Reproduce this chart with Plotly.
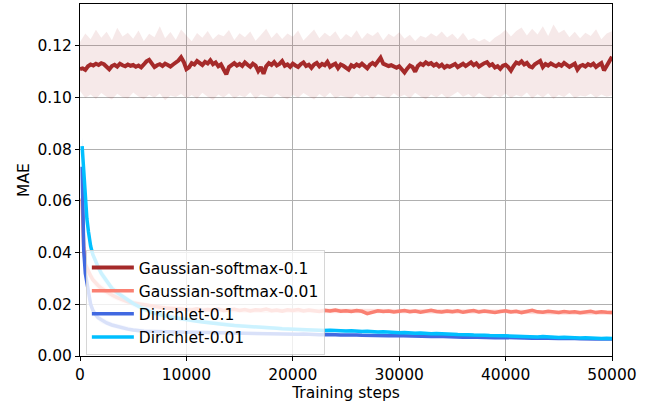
import plotly.graph_objects as go

# ---------------- data ----------------
# Gaussian-softmax-0.1 (mean, every 250 steps)
red_steps = list(range(0, 50001, 250))
red_mean = [
    0.1110, 0.1113, 0.1107, 0.1121, 0.1128, 0.1124, 0.1131, 0.1126, 0.1133, 0.1129,
    0.1119, 0.1109, 0.1122, 0.1127, 0.1120, 0.1131, 0.1125, 0.1121, 0.1128, 0.1123,
    0.1126, 0.1119, 0.1124, 0.1117, 0.1128, 0.1140, 0.1146, 0.1131, 0.1118, 0.1125,
    0.1129, 0.1122, 0.1131, 0.1126, 0.1120, 0.1128, 0.1134, 0.1143, 0.1156, 0.1138,
    0.1110, 0.1117, 0.1133, 0.1128, 0.1141, 0.1135, 0.1126, 0.1138, 0.1132, 0.1144,
    0.1129, 0.1136, 0.1121, 0.1128, 0.1112, 0.1090, 0.1118, 0.1127, 0.1133, 0.1124,
    0.1130, 0.1122, 0.1136, 0.1127, 0.1119, 0.1131, 0.1124, 0.1103, 0.1118, 0.1092,
    0.1121, 0.1133, 0.1126, 0.1137, 0.1124, 0.1130, 0.1141, 0.1123, 0.1128, 0.1119,
    0.1131, 0.1124, 0.1118, 0.1129, 0.1136, 0.1122, 0.1127, 0.1115, 0.1128, 0.1134,
    0.1121, 0.1130, 0.1125, 0.1138, 0.1119, 0.1126, 0.1131, 0.1114, 0.1128, 0.1123,
    0.1116, 0.1108, 0.1125, 0.1119, 0.1128, 0.1122, 0.1131, 0.1124, 0.1113, 0.1127,
    0.1134, 0.1126, 0.1140, 0.1154, 0.1131, 0.1127, 0.1122, 0.1125, 0.1118, 0.1115,
    0.1121, 0.1108, 0.1097, 0.1112, 0.1124, 0.1118, 0.1100, 0.1122, 0.1131, 0.1126,
    0.1136, 0.1129, 0.1133, 0.1124, 0.1130, 0.1120, 0.1127, 0.1116, 0.1123, 0.1119,
    0.1126, 0.1130, 0.1118, 0.1124, 0.1131, 0.1122, 0.1127, 0.1136, 0.1125, 0.1132,
    0.1120, 0.1128, 0.1133, 0.1137, 0.1124, 0.1129, 0.1116, 0.1121, 0.1111, 0.1123,
    0.1127, 0.1118, 0.1104, 0.1122, 0.1136, 0.1131, 0.1140, 0.1128, 0.1134, 0.1121,
    0.1117, 0.1129, 0.1137, 0.1142, 0.1118, 0.1130, 0.1124, 0.1132, 0.1126, 0.1121,
    0.1129, 0.1123, 0.1134, 0.1127, 0.1119, 0.1125, 0.1131, 0.1108, 0.1122, 0.1126,
    0.1120, 0.1129, 0.1124, 0.1131, 0.1118, 0.1126, 0.1133, 0.1105, 0.1121, 0.1137,
    0.1158,
]
# Gaussian-softmax-0.1 band (every 500 steps)
red_band_steps = list(range(0, 50001, 500))
red_upper = [
    0.1215, 0.1248, 0.1226, 0.1262, 0.1231, 0.1255, 0.1222, 0.1270, 0.1236, 0.1251,
    0.1228, 0.1259, 0.1219, 0.1247, 0.1233, 0.1276, 0.1229, 0.1254, 0.1224, 0.1263,
    0.1240, 0.1218, 0.1250, 0.1231, 0.1258, 0.1226, 0.1245, 0.1237, 0.1261, 0.1223,
    0.1249, 0.1233, 0.1256, 0.1220, 0.1242, 0.1266, 0.1230, 0.1252, 0.1227, 0.1248,
    0.1235, 0.1259, 0.1221, 0.1244, 0.1263, 0.1229, 0.1251, 0.1236, 0.1257, 0.1224,
    0.1246, 0.1232, 0.1260, 0.1227, 0.1250, 0.1238, 0.1255, 0.1222, 0.1247, 0.1234,
    0.1253, 0.1228, 0.1243, 0.1219, 0.1239, 0.1231, 0.1249, 0.1236, 0.1256, 0.1232,
    0.1247, 0.1226, 0.1251, 0.1222, 0.1230, 0.1217, 0.1228, 0.1214, 0.1232, 0.1245,
    0.1262, 0.1236, 0.1258, 0.1271, 0.1240, 0.1266, 0.1244, 0.1276, 0.1238, 0.1283,
    0.1250, 0.1262, 0.1233, 0.1255, 0.1229, 0.1251, 0.1238, 0.1264, 0.1226, 0.1248,
    0.1257,
]
red_lower = [
    0.1025, 0.0998, 0.1012, 0.0994, 0.1018, 0.1003, 0.0992, 0.1015, 0.1001, 0.0996,
    0.1020, 0.1004, 0.0993, 0.1011, 0.0999, 0.1016, 0.0990, 0.1008, 0.1002, 0.1014,
    0.0997, 0.1010, 0.0995, 0.1019, 0.1003, 0.0991, 0.1012, 0.1000, 0.1017, 0.0996,
    0.1009, 0.1001, 0.1021, 0.0994, 0.1013, 0.1005, 0.0997, 0.1015, 0.1002, 0.0993,
    0.1011, 0.0999, 0.1018, 0.1004, 0.0992, 0.1014, 0.1000, 0.1020, 0.0996, 0.1008,
    0.1003, 0.0995, 0.1016, 0.1001, 0.1010, 0.0994, 0.1013, 0.1006, 0.0998, 0.1017,
    0.1002, 0.1011, 0.0996, 0.1019, 0.1004, 0.0993, 0.1012, 0.1000, 0.1015, 0.0997,
    0.1009, 0.1022, 0.1003, 0.1014, 0.0999, 0.1018, 0.1005, 0.0995, 0.1012, 0.1001,
    0.1016, 0.0998, 0.1010, 0.1003, 0.1020, 0.0996, 0.1013, 0.1000, 0.1017, 0.0994,
    0.1011, 0.1002, 0.1019, 0.0997, 0.1008, 0.1004, 0.1015, 0.0999, 0.1012, 0.1003,
    0.1009,
]

# shared step grid for the three converging curves
steps = [200, 350, 500, 650, 800, 1000, 1200, 1400, 1700, 2000,
         2500, 3000, 3500, 4000, 4500, 5000, 6000, 7000, 8000, 9000] + list(range(10000, 50001, 500))

gs001_mean = [
    0.0610, 0.0420, 0.0355, 0.0340, 0.0330, 0.0310, 0.0295, 0.0285, 0.0273, 0.0262,
    0.0248, 0.0236, 0.0226, 0.0217, 0.0210, 0.0205, 0.0198, 0.0190, 0.0186, 0.0183,
    0.0181, 0.0178, 0.0183, 0.0176, 0.0180, 0.0177, 0.0182, 0.0175, 0.0179, 0.0181,
    0.0176, 0.0180, 0.0174, 0.0179, 0.0177, 0.0182, 0.0175, 0.0178, 0.0173, 0.0179,
    0.0176, 0.0180, 0.0174, 0.0178, 0.0175, 0.0172, 0.0177, 0.0174, 0.0178, 0.0173,
    0.0175, 0.0172, 0.0176, 0.0173, 0.0164, 0.0171, 0.0175, 0.0172, 0.0174, 0.0170,
    0.0173, 0.0176, 0.0171, 0.0174, 0.0169, 0.0173, 0.0177, 0.0172, 0.0170, 0.0174,
    0.0171, 0.0175, 0.0169, 0.0173, 0.0176, 0.0170, 0.0174, 0.0171, 0.0168, 0.0172,
    0.0175, 0.0170, 0.0173, 0.0168, 0.0172, 0.0177, 0.0171, 0.0169, 0.0173, 0.0170,
    0.0168, 0.0172, 0.0169, 0.0171, 0.0167, 0.0170, 0.0173, 0.0168, 0.0171, 0.0169,
    0.0168,
]
dir01_mean = [
    0.0732, 0.0410, 0.0320, 0.0280, 0.0235, 0.0200, 0.0178, 0.0163, 0.0148, 0.0139,
    0.0128, 0.0120, 0.0114, 0.0109, 0.0104, 0.0101, 0.0096, 0.0095, 0.0094, 0.0094,
    0.0093, 0.0093, 0.0092, 0.0092, 0.0091, 0.0091, 0.0090, 0.0090, 0.0090, 0.0089,
    0.0089, 0.0088, 0.0088, 0.0088, 0.0087, 0.0087, 0.0086, 0.0086, 0.0086, 0.0085,
    0.0085, 0.0084, 0.0085, 0.0083, 0.0084, 0.0082, 0.0083, 0.0081, 0.0082, 0.0081,
    0.0082, 0.0080, 0.0081, 0.0080, 0.0079, 0.0080, 0.0078, 0.0079, 0.0078, 0.0079,
    0.0078, 0.0077, 0.0078, 0.0076, 0.0077, 0.0076, 0.0075, 0.0076, 0.0075, 0.0074,
    0.0075, 0.0074, 0.0073, 0.0074, 0.0073, 0.0072, 0.0073, 0.0072, 0.0071, 0.0072,
    0.0071, 0.0072, 0.0070, 0.0071, 0.0070, 0.0069, 0.0070, 0.0069, 0.0068, 0.0069,
    0.0068, 0.0069, 0.0067, 0.0068, 0.0067, 0.0066, 0.0067, 0.0066, 0.0067, 0.0066,
    0.0066,
]
dir001_mean = [
    0.0812, 0.0700, 0.0610, 0.0530, 0.0480, 0.0425, 0.0393, 0.0372, 0.0345, 0.0320,
    0.0290, 0.0262, 0.0245, 0.0230, 0.0215, 0.0203, 0.0181, 0.0166, 0.0155, 0.0147,
    0.0141, 0.0137, 0.0134, 0.0132, 0.0129, 0.0126, 0.0124, 0.0122, 0.0120, 0.0118,
    0.0117, 0.0115, 0.0113, 0.0112, 0.0110, 0.0109, 0.0108, 0.0107, 0.0105, 0.0104,
    0.0103, 0.0104, 0.0101, 0.0102, 0.0100, 0.0101, 0.0099, 0.0100, 0.0098, 0.0099,
    0.0097, 0.0098, 0.0096, 0.0095, 0.0096, 0.0094, 0.0093, 0.0094, 0.0092, 0.0091,
    0.0090, 0.0091, 0.0089, 0.0088, 0.0089, 0.0087, 0.0086, 0.0087, 0.0085, 0.0084,
    0.0084, 0.0083, 0.0084, 0.0082, 0.0081, 0.0082, 0.0080, 0.0079, 0.0080, 0.0078,
    0.0078, 0.0077, 0.0078, 0.0076, 0.0075, 0.0076, 0.0074, 0.0075, 0.0073, 0.0074,
    0.0072, 0.0073, 0.0071, 0.0072, 0.0070, 0.0071, 0.0069, 0.0070, 0.0068, 0.0069,
    0.0068,
]

# bands of the converging curves
band_steps = [200, 350, 500, 650, 800, 1000, 1400, 2000, 3000, 4000, 5000,
              7000, 10000, 15000, 20000, 25000, 30000, 35000, 40000, 45000, 50000]
gs001_upper = [0.0640, 0.0450, 0.0380, 0.0362, 0.0350, 0.0328, 0.0300, 0.0276, 0.0249, 0.0229, 0.0216,
               0.0200, 0.0190, 0.0185, 0.0184, 0.0183, 0.0181, 0.0179, 0.0180, 0.0176, 0.0176]
gs001_lower = [0.0580, 0.0390, 0.0330, 0.0318, 0.0310, 0.0292, 0.0270, 0.0248, 0.0223, 0.0205, 0.0194,
               0.0180, 0.0172, 0.0167, 0.0167, 0.0166, 0.0165, 0.0163, 0.0165, 0.0160, 0.0160]
dir01_upper = [0.0760, 0.0440, 0.0345, 0.0302, 0.0255, 0.0218, 0.0178, 0.0151, 0.0130, 0.0118, 0.0109,
               0.0102, 0.0099, 0.0094, 0.0090, 0.0087, 0.0083, 0.0080, 0.0076, 0.0073, 0.0071]
dir01_lower = [0.0700, 0.0380, 0.0295, 0.0258, 0.0215, 0.0182, 0.0148, 0.0127, 0.0110, 0.0100, 0.0093,
               0.0088, 0.0087, 0.0084, 0.0080, 0.0077, 0.0073, 0.0070, 0.0066, 0.0063, 0.0061]
dir001_upper = [0.0845, 0.0730, 0.0638, 0.0556, 0.0505, 0.0448, 0.0392, 0.0338, 0.0277, 0.0243, 0.0215,
                0.0177, 0.0150, 0.0125, 0.0110, 0.0103, 0.0096, 0.0089, 0.0083, 0.0077, 0.0073]
dir001_lower = [0.0780, 0.0670, 0.0582, 0.0504, 0.0455, 0.0402, 0.0352, 0.0302, 0.0247, 0.0217, 0.0191,
                0.0155, 0.0132, 0.0109, 0.0096, 0.0091, 0.0084, 0.0079, 0.0073, 0.0067, 0.0063]

x_ticks = [0, 10000, 20000, 30000, 40000, 50000]
x_tick_text = ["0", "10000", "20000", "30000", "40000", "50000"]
y_ticks = [0.00, 0.02, 0.04, 0.06, 0.08, 0.10, 0.12]
y_tick_text = ["0.00", "0.02", "0.04", "0.06", "0.08", "0.10", "0.12"]

# ---------------- figure ----------------
FONT = "DejaVu Sans"
fig = go.Figure()


def add_series(name, xs, ys, bx, up, lo, color, band_rgba, width):
    fig.add_trace(go.Scatter(
        x=list(bx) + list(bx)[::-1], y=list(up) + list(lo)[::-1],
        fill="toself", fillcolor=band_rgba, line=dict(width=0),
        mode="lines", hoverinfo="skip", showlegend=False))
    fig.add_trace(go.Scatter(
        x=xs, y=ys, name=name, mode="lines",
        line=dict(color=color, width=width)))


add_series("Gaussian-softmax-0.1", red_steps, red_mean, red_band_steps, red_upper, red_lower,
           "#a52a2a", "rgba(165,42,42,0.1)", 4)
add_series("Gaussian-softmax-0.01", steps, gs001_mean, band_steps, gs001_upper, gs001_lower,
           "#fa8072", "rgba(250,128,114,0.25)", 3.5)
add_series("Dirichlet-0.1", steps, dir01_mean, band_steps, dir01_upper, dir01_lower,
           "#4169e1", "rgba(65,105,225,0.2)", 3.5)
add_series("Dirichlet-0.01", steps, dir001_mean, band_steps, dir001_upper, dir001_lower,
           "#00bfff", "rgba(0,191,255,0.2)", 3.5)

axis_common = dict(
    showline=True, linecolor="black", linewidth=1, mirror=True,
    ticks="outside", ticklen=4, tickcolor="black", tickwidth=1,
    showgrid=True, gridcolor="#b0b0b0", gridwidth=0.8, zeroline=False,
    tickfont=dict(family=FONT, size=15.5, color="black"),
)

fig.update_layout(
    width=665, height=406,
    margin=dict(l=80, r=53, t=4, b=50),
    paper_bgcolor="white", plot_bgcolor="white",
    font=dict(family=FONT, size=15.5, color="black"),
    xaxis=dict(range=[0, 50000], tickmode="array", tickvals=x_ticks, ticktext=x_tick_text,
               title=dict(text="Training steps", font=dict(family=FONT, size=15.5), standoff=0),
               **axis_common),
    yaxis=dict(range=[0, 0.1362], tickmode="array", tickvals=y_ticks, ticktext=y_tick_text,
               title=dict(text="MAE", font=dict(family=FONT, size=15.5), standoff=3),
               **axis_common),
    legend=dict(x=0.011, y=0.003, xanchor="left", yanchor="bottom",
                bgcolor="rgba(255,255,255,0.8)", bordercolor="rgba(204,204,204,0.8)",
                borderwidth=1, font=dict(family=FONT, size=15.5, color="black"),
                traceorder="normal", itemwidth=42, tracegroupgap=0),
    showlegend=True,
)

fig.write_html("out.html")
